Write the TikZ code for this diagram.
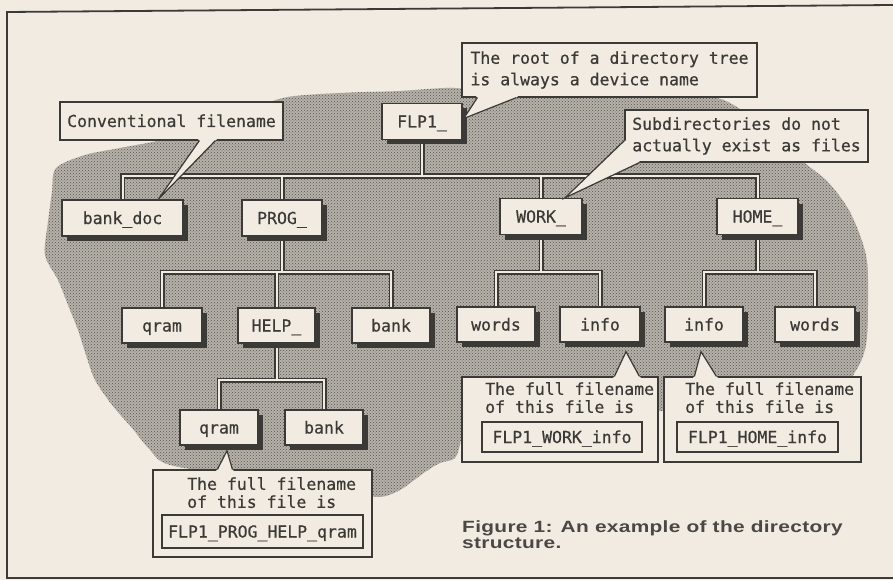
\documentclass[tikz,border=0pt]{standalone}
\usepackage{fontspec}
\newfontfamily\monofont[FakeBold=0.6]{DejaVu Sans Mono}
\newfontfamily\capfont[FakeStretch=1.28,LetterSpace=2]{Liberation Sans}
\usetikzlibrary{shadows,calc,patterns}
\definecolor{paper}{HTML}{F2EBE2}
\definecolor{ink}{HTML}{3C3A36}
\definecolor{capink}{HTML}{4A4844}
\pgfdeclarelayer{bg}
\pgfdeclarelayer{links}
\pgfsetlayers{bg,links,main}
\newcommand\treelinks[1]{%
  \draw[#1] (flp.south) -- (flp.south |- lvA);
  \draw[#1] (bankdoc.north) -- (bankdoc.north |- lvA) -- (home.north |- lvA) -- (home.north);
  \draw[#1] (prog.north) -- (prog.north |- lvA);
  \draw[#1] (work.north) -- (work.north |- lvA);
  \draw[#1] (prog.south) -- (prog.south |- lvB);
  \draw[#1] (gramA.north) -- (gramA.north |- lvB) -- (bankA.north |- lvB) -- (bankA.north);
  \draw[#1] (help.north) -- (help.north |- lvB);
  \draw[#1] (work.south) -- (work.south |- lvB);
  \draw[#1] (wordsA.north) -- (wordsA.north |- lvB) -- (infoA.north |- lvB) -- (infoA.north);
  \draw[#1] (home.south) -- (home.south |- lvB);
  \draw[#1] (infoB.north) -- (infoB.north |- lvB) -- (wordsB.north |- lvB) -- (wordsB.north);
  \draw[#1] (help.south) -- (help.south |- lvC);
  \draw[#1] (gramB.north) -- (gramB.north |- lvC) -- (bankB.north |- lvC) -- (bankB.north);
}
\newcommand\calltail[5]{%
  \fill[paper] #4 -- #1 -- #2 -- #3 -- #5 -- cycle;
  \draw[ink, line width=1.2pt, line join=miter] #1 -- #2 -- #3;}
\begin{document}
\begin{tikzpicture}[x=1pt,y=-1pt,
  dirbox/.style={draw=ink, fill=paper, line width=1.4pt, text=ink,
    font=\monofont\fontsize{16.5}{20}\selectfont, text height=12pt, text depth=0pt,
    minimum height=36pt, minimum width=80pt, inner sep=0pt,
    drop shadow={shadow xshift=5pt, shadow yshift=-5pt, opacity=1, fill=ink}},
  notebox/.style={draw=ink, fill=paper, line width=1.2pt, inner sep=0pt, text=ink,
    font=\monofont\fontsize{16.5}{21.5}\selectfont, align=left},
  notetext/.style={text=ink, font=\monofont\fontsize{16.5}{18}\selectfont,
    align=left, inner sep=0pt, anchor=north west},
  namebox/.style={draw=ink, fill=paper, line width=1.1pt, text=ink,
    font=\monofont\fontsize{16.5}{20}\selectfont, text height=12pt, text depth=0pt, inner sep=0pt},
  outerline/.style={draw=ink, line width=5pt},
  innerline/.style={draw=paper, line width=2pt},
]
\useasboundingbox (0,0) rectangle (893,580);
\begin{pgfonlayer}{bg}
  \fill[paper] (0,0) rectangle (893,580);
  \draw[ink, line width=1.8pt] (893,5) -- (7,12) -- (7,578) -- (893,578);
  \path[fill=ink!33!paper, postaction={pattern=crosshatch dots, pattern color=ink!85!paper}]
    plot[smooth cycle, tension=0.5] coordinates {
    (56,168) (85,155) (120,148) (170,138) (230,118) (283,98) (340,93) (400,91)
    (455,88) (510,96) (600,97) (700,97) (728,102) (770,130) (805,163) (828,182)
    (850,212) (866,255) (868,300) (866,345) (855,372) (830,395) (700,410) (520,410)
    (468,402) (461,440) (455,458) (440,463) (425,472) (400,490) (378,497) (340,490)
    (250,478) (170,465) (150,450) (132,428) (112,405) (95,380) (86,355) (78,330)
    (68,305) (58,280) (45,255) (48,222) (52,192)};
\end{pgfonlayer}
\coordinate (lvA) at (0,176);
\coordinate (lvB) at (0,272);
\coordinate (lvC) at (0,380);
% tree nodes
\node[dirbox] (flp) at (422,121.5) {FLP1\_};
\node[dirbox, minimum width=121pt] (bankdoc) at (122.5,218) {bank\_doc};
\node[dirbox] (prog) at (282,218) {PROG\_};
\node[dirbox, minimum width=82pt] (work) at (541,216.5) {WORK\_};
\node[dirbox, minimum width=81pt] (home) at (757.5,216.5) {HOME\_};
\node[dirbox, minimum height=35pt] (gramA) at (162,325.5) {qram};
\node[dirbox, minimum height=35pt, minimum width=77pt] (help) at (276.5,325.5) {HELP\_};
\node[dirbox, minimum height=35pt, minimum width=78pt] (bankA) at (391,325.5) {bank};
\node[dirbox, minimum height=35pt, minimum width=78pt] (wordsA) at (496,324.5) {words};
\node[dirbox, minimum height=35pt] (infoA) at (600,324.5) {info};
\node[dirbox, minimum height=35pt, minimum width=78pt] (infoB) at (704,324.5) {info};
\node[dirbox, minimum height=35pt] (wordsB) at (815,324.5) {words};
\node[dirbox, minimum height=35pt, minimum width=78pt] (gramB) at (219,427.5) {qram};
\node[dirbox, minimum height=35pt, minimum width=78pt] (bankB) at (324,427.5) {bank};
\begin{pgfonlayer}{links}
  \treelinks{outerline}
  \treelinks{innerline}
\end{pgfonlayer}
% callouts
\node[notebox, minimum width=223pt, minimum height=38pt, text height=12pt, text depth=0pt] (conv) at (171.5,121) {Conventional filename};
\calltail{($(conv.south west)+(140,0)$)}{($(bankdoc.north west)+(97,0)$)}{($(conv.south west)+(156,0)$)}{($(conv.south west)+(138,-2)$)}{($(conv.south west)+(158,-2)$)}
\node[notebox, minimum width=295pt, minimum height=54pt] (root) at (609.5,70) {The root of a directory tree\\is always a device name};
\calltail{($(root.south west)+(16,0)$)}{($(flp.east)+(1,-3)$)}{($(root.south west)+(55,0)$)}{($(root.south west)+(14,-2)$)}{($(root.south west)+(57,-2)$)}
\node[notebox, minimum width=243pt, minimum height=52pt] (subd) at (746.5,136) {Subdirectories do not\\actually exist as files};
\calltail{($(subd.south west)+(0,-22)$)}{($(work.north)+(24,0)$)}{($(subd.south west)+(15,0)$)}{($(subd.south west)+(2,-22)$)}{($(subd.south west)+(15,-2)$)}
% bottom callouts
\node[notebox, minimum width=219pt, minimum height=87pt] (gramC) at (262.5,513.5) {};
\calltail{($(gramC.north west)+(65,0)$)}{($(gramB.south)+(8,5)$)}{($(gramC.north west)+(80,0)$)}{($(gramC.north west)+(63,2)$)}{($(gramC.north west)+(82,2)$)}
\node[notetext] (gramT) at (187,477) {The full filename\\of this file is};
\node[namebox, minimum width=201pt, minimum height=33pt] (gramN) at (262.5,531.5) {FLP1\_PROG\_HELP\_qram};
\node[notebox, minimum width=196pt, minimum height=85pt] (workC) at (560,419.5) {};
\calltail{($(workC.north west)+(153,0)$)}{($(infoA.south)+(26,9)$)}{($(workC.north west)+(178,0)$)}{($(workC.north west)+(151,2)$)}{($(workC.north west)+(180,2)$)}
\node[notetext] (workT) at (485,382) {The full filename\\of this file is};
\node[namebox, minimum width=160pt, minimum height=30pt] (workN) at (562,437) {FLP1\_WORK\_info};
\node[notebox, minimum width=197pt, minimum height=85pt] (homeC) at (762.5,419.5) {};
\calltail{($(homeC.north west)+(31,0)$)}{($(infoB.south)+(-3,9)$)}{($(homeC.north west)+(53,0)$)}{($(homeC.north west)+(29,2)$)}{($(homeC.north west)+(55,2)$)}
\node[notetext] (homeT) at (685,382) {The full filename\\of this file is};
\node[namebox, minimum width=161pt, minimum height=30pt] (homeN) at (757.5,437) {FLP1\_HOME\_info};
% caption
\node[anchor=north west, inner sep=0pt, align=left, text=capink,
  font=\capfont\bfseries\fontsize{16.3}{16.5}\selectfont] (cap) at (462,520)
  {Figure 1: An example of the directory\\structure.};
\end{tikzpicture}
\end{document}
